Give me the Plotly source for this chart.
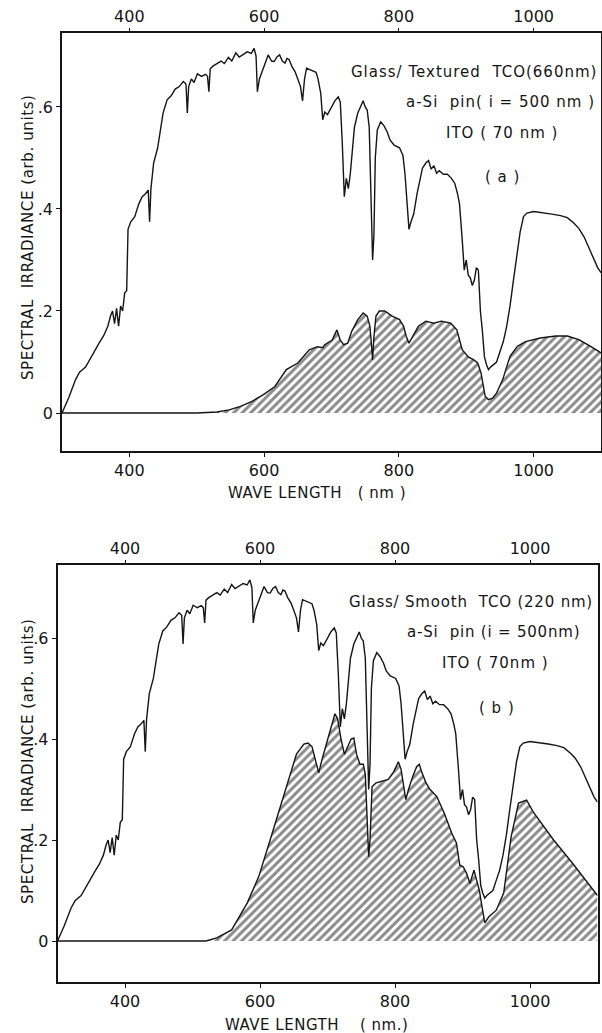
import plotly.graph_objects as go

# ---------------- data ----------------
wl_solar = [300, 310, 320, 326, 335, 345, 355, 362, 368, 372, 375, 378, 381, 384, 387, 390, 393, 396,
            398, 402, 408, 414, 419, 424, 428, 430, 432, 436, 442, 450, 456, 462, 468, 474, 480, 484,
            486, 488, 492, 496, 501, 507, 513, 516, 518, 520, 524, 530, 536, 541, 547, 552, 558, 563,
            569, 575, 581, 585, 588, 590, 593, 597, 602, 606, 611, 615, 619, 623, 627, 631, 634, 637,
            641, 646, 650, 654, 657, 660, 663, 670, 677, 680, 684, 687, 690, 694, 700, 705, 710, 713,
            716, 719, 722, 725, 728, 731, 734, 739, 743, 747, 750, 753, 756, 759, 761, 763, 765, 768,
            773, 778, 783, 787, 793, 801, 806, 809, 812, 815, 818, 822, 827, 835, 840, 844, 848, 852,
            856, 860, 866, 872, 878, 883, 887, 890, 894, 897, 900, 903, 906, 909, 912, 915, 918, 921,
            924, 927, 930, 933, 936, 940, 945, 950, 955, 960, 965, 970, 975, 980, 985, 990, 1000,
            1015, 1027, 1040, 1050, 1060, 1067, 1075, 1083, 1090, 1095, 1100]
irr_solar = [0.0, 0.03, 0.065, 0.08, 0.09, 0.115, 0.137, 0.152, 0.17, 0.19, 0.2, 0.175, 0.205, 0.17,
             0.21, 0.2, 0.235, 0.24, 0.36, 0.375, 0.385, 0.41, 0.424, 0.43, 0.437, 0.375, 0.44, 0.49,
             0.52, 0.588, 0.614, 0.622, 0.635, 0.64, 0.65, 0.645, 0.588, 0.64, 0.655, 0.648, 0.665,
             0.66, 0.664, 0.66, 0.63, 0.675, 0.68, 0.685, 0.69, 0.685, 0.697, 0.69, 0.706, 0.698,
             0.703, 0.708, 0.705, 0.715, 0.70, 0.63, 0.655, 0.67, 0.69, 0.702, 0.69, 0.689, 0.698,
             0.702, 0.69, 0.686, 0.695, 0.693, 0.68, 0.669, 0.655, 0.64, 0.612, 0.655, 0.676, 0.672,
             0.668, 0.655, 0.627, 0.575, 0.59, 0.585, 0.6, 0.612, 0.62, 0.61, 0.53, 0.424, 0.46, 0.44,
             0.47, 0.52, 0.56, 0.588, 0.6, 0.612, 0.6, 0.594, 0.56, 0.42, 0.30, 0.35, 0.5, 0.555,
             0.571, 0.563, 0.55, 0.535, 0.525, 0.52, 0.505, 0.47, 0.42, 0.36, 0.375, 0.39, 0.43, 0.48,
             0.49, 0.495, 0.478, 0.485, 0.47, 0.475, 0.468, 0.468, 0.46, 0.45, 0.43, 0.41, 0.34, 0.28,
             0.30, 0.27, 0.265, 0.25, 0.26, 0.285, 0.28, 0.2, 0.16, 0.11, 0.095, 0.085, 0.09, 0.095,
             0.1, 0.12, 0.14, 0.17, 0.21, 0.26, 0.31, 0.355, 0.385, 0.392, 0.395, 0.393, 0.39, 0.387,
             0.383, 0.372, 0.362, 0.345, 0.32, 0.3, 0.285, 0.275]

# (a) glass / textured TCO : absorbed spectrum
wl_a = [300, 400, 500, 530, 548, 565, 582, 599, 616, 633, 650, 667, 679, 687, 690, 701, 708, 713,
        718, 724, 730, 739, 747, 753, 757, 759, 761, 763, 766, 771, 779, 790, 801, 807, 811, 815,
        821, 829, 840, 852, 863, 877, 886, 894, 903, 910, 917, 922, 928, 933, 939, 945, 954, 965,
        976, 988, 1010, 1033, 1050, 1067, 1084, 1100]
abs_a = [0.0, 0.0, 0.0, 0.002, 0.006, 0.013, 0.023, 0.036, 0.052, 0.085, 0.098, 0.124, 0.13, 0.128,
         0.134, 0.143, 0.163, 0.143, 0.134, 0.137, 0.16, 0.183, 0.196, 0.19, 0.17, 0.14, 0.104, 0.15,
         0.19, 0.2, 0.2, 0.19, 0.183, 0.17, 0.15, 0.137, 0.15, 0.17, 0.18, 0.176, 0.18, 0.176, 0.163,
         0.124, 0.11, 0.105, 0.098, 0.078, 0.033, 0.026, 0.029, 0.039, 0.065, 0.111, 0.131, 0.14,
         0.147, 0.151, 0.151, 0.144, 0.131, 0.118]

# (b) glass / smooth TCO : absorbed spectrum
wl_b = [300, 400, 500, 520, 536, 558, 581, 598, 615, 632, 643, 654, 665, 671, 677, 682, 687, 692,
        700, 706, 711, 715, 720, 725, 730, 735, 739, 743, 748, 753, 756, 758, 761, 763, 766, 772,
        780, 790, 798, 805, 809, 813, 816, 820, 826, 832, 836, 840, 846, 852, 862, 873, 884, 891,
        896, 901, 906, 911, 917, 921, 925, 928, 933, 939, 950, 961, 972, 983, 995, 1006, 1035,
        1063, 1086, 1100]
abs_b = [0.0, 0.0, 0.0, 0.0, 0.006, 0.022, 0.075, 0.127, 0.2, 0.273, 0.32, 0.37, 0.39, 0.392, 0.385,
         0.36, 0.333, 0.36, 0.4, 0.43, 0.45, 0.44, 0.4, 0.37, 0.385, 0.4, 0.402, 0.37, 0.35, 0.35,
         0.33, 0.25, 0.167, 0.2, 0.306, 0.313, 0.316, 0.32, 0.335, 0.355, 0.34, 0.3, 0.28, 0.3,
         0.325, 0.345, 0.35, 0.333, 0.313, 0.3, 0.286, 0.253, 0.214, 0.194, 0.15, 0.147, 0.134,
         0.114, 0.14, 0.12, 0.1, 0.075, 0.036, 0.048, 0.061, 0.095, 0.206, 0.273, 0.279, 0.253,
         0.2, 0.154, 0.114, 0.09]

x_ticks = [400, 600, 800, 1000]
y_ticks = [0, 0.2, 0.4, 0.6]
y_ticktext = ["0", ".2", ".4", ".6"]
labels_a = ["Glass/ Textured  TCO(660nm)", "a-Si  pin( i = 500 nm )", "ITO ( 70 nm )", "( a )"]
labels_b = ["Glass/ Smooth  TCO (220 nm)", "a-Si  pin (i = 500nm)", "ITO ( 70nm )", "( b )"]
y_title = "SPECTRAL  IRRADIANCE (arb. units)"
x_title_a = "WAVE LENGTH   ( nm )"
x_title_b = "WAVE LENGTH    ( nm.)"

# ---------------- figure ----------------
W, H = 602, 1033
FONT = "DejaVu Sans"
INK = "#151515"


def px(x):
    return x / W


def py(y):
    return 1 - y / H


fig = go.Figure()

hatch = dict(shape="/", size=6, solidity=0.5, fgcolor=INK, bgcolor="white")

for xa, ya, wl_abs, val_abs in (("x", "y", wl_a, abs_a), ("x2", "y2", wl_b, abs_b)):
    fig.add_trace(go.Scatter(x=wl_abs, y=val_abs, xaxis=xa, yaxis=ya, mode="lines",
                             fill="tozeroy", fillcolor="white", fillpattern=hatch,
                             line=dict(color=INK, width=1.4), showlegend=False, hoverinfo="skip"))
    fig.add_trace(go.Scatter(x=wl_solar, y=irr_solar, xaxis=xa, yaxis=ya, mode="lines",
                             line=dict(color=INK, width=1.4), showlegend=False, hoverinfo="skip"))

# dummy traces for the top tick axes
fig.add_trace(go.Scatter(x=[300, 1100], y=[None, None], xaxis="x3", yaxis="y", mode="lines",
                         showlegend=False, hoverinfo="skip"))
fig.add_trace(go.Scatter(x=[300, 1100], y=[None, None], xaxis="x4", yaxis="y2", mode="lines",
                         showlegend=False, hoverinfo="skip"))

tickfont = dict(family=FONT, size=16, color=INK)
common_x = dict(range=[300, 1100], tickvals=x_ticks, ticks="outside", ticklen=4, tickwidth=1.3,
                tickcolor=INK, tickfont=tickfont, showgrid=False, zeroline=False, fixedrange=True)
common_y = dict(tickvals=y_ticks, ticktext=y_ticktext, ticks="outside", ticklen=4, tickwidth=1.3,
                tickcolor=INK, tickfont=tickfont, showgrid=False, zeroline=False,
                showline=True, mirror=True, linecolor=INK, linewidth=1.6)

dom_xa = [px(62), px(601)]
dom_xb = [px(57.5), px(597.5)]
fig.update_layout(
    width=W, height=H, margin=dict(l=0, r=0, t=0, b=0),
    paper_bgcolor="white", plot_bgcolor="white",
    xaxis=dict(domain=dom_xa, anchor="y", showline=True, mirror=True, linecolor=INK,
               linewidth=1.6, **common_x),
    yaxis=dict(domain=[py(451), py(33)], anchor="x", range=[-0.0745, 0.745], **common_y),
    xaxis3=dict(domain=dom_xa, anchor="y", overlaying="x", side="top", showline=False, **common_x),
    xaxis2=dict(domain=dom_xb, anchor="y2", showline=True, mirror=True, linecolor=INK,
                linewidth=1.6, **common_x),
    yaxis2=dict(domain=[py(982), py(565)], anchor="x2", range=[-0.0812, 0.7446], **common_y),
    xaxis4=dict(domain=dom_xb, anchor="y2", overlaying="x2", side="top", showline=False, **common_x),
)

ann = []


def text(t, x, y, size=15, xanchor="center", angle=0, spacing=0.0):
    if spacing:
        t = '<span style="letter-spacing:%.1fpx">%s</span>' % (spacing, t)
    ann.append(dict(text=t, x=px(x), y=py(y), xref="paper", yref="paper", showarrow=False,
                    xanchor=xanchor, yanchor="middle", textangle=angle,
                    font=dict(family=FONT, size=size, color=INK)))


# panel (a) labels
text(labels_a[0], 599, 72, xanchor="right", spacing=1.0)
text(labels_a[1], 597, 102, xanchor="right", spacing=1.0)
text(labels_a[2], 502, 133, spacing=1.0)
text(labels_a[3], 502, 177, spacing=1.0)
# panel (b) labels
text(labels_b[0], 595, 602, xanchor="right", spacing=0.8)
text(labels_b[1], 582, 632, xanchor="right", spacing=0.8)
text(labels_b[2], 495, 663, spacing=1.0)
text(labels_b[3], 497, 708, spacing=1.0)
# axis titles
text(y_title, 28, 237, size=15, angle=-90, spacing=0.6)
text(y_title, 28, 761, size=15, angle=-90, spacing=0.6)
text(x_title_a, 317, 493, size=15, spacing=0.5)
text(x_title_b, 317, 1025, size=15, spacing=0.5)

fig.update_layout(annotations=ann)
fig.write_html("out.html")
